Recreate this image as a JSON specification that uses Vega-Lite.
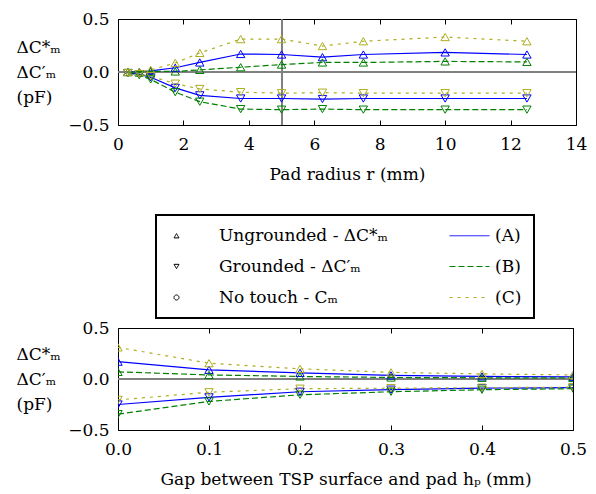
{
  "$schema": "https://vega.github.io/schema/vega-lite/v6.json",
  "padding": {"left": 15, "top": 9, "right": 5, "bottom": 5},
  "background": "white",
  "config": {
    "font": "DejaVu Serif",
    "view": {"stroke": "#000", "strokeWidth": 1},
    "axis": {"grid": false, "domain": false, "tickColor": "#000", "tickSize": -5, "tickWidth": 1, "labelFontSize": 17, "labelColor": "#000", "titleFontSize": 17, "titleColor": "#000", "titleFontWeight": "normal", "labelFlush": false, "labelPadding": 14},
    "legend": {"strokeWidth": 2}
  },
  "datasets": {
    "radius": [
      {"x": 0.3, "series": "A", "type": "U", "v": 0},
      {"x": 0.65, "series": "A", "type": "U", "v": 0},
      {"x": 1, "series": "A", "type": "U", "v": 0.01},
      {"x": 1.75, "series": "A", "type": "U", "v": 0.04},
      {"x": 2.5, "series": "A", "type": "U", "v": 0.09},
      {"x": 3.75, "series": "A", "type": "U", "v": 0.17},
      {"x": 5, "series": "A", "type": "U", "v": 0.165},
      {"x": 6.25, "series": "A", "type": "U", "v": 0.14},
      {"x": 7.5, "series": "A", "type": "U", "v": 0.165},
      {"x": 10, "series": "A", "type": "U", "v": 0.185},
      {"x": 12.5, "series": "A", "type": "U", "v": 0.165},
      {"x": 0.3, "series": "B", "type": "U", "v": 0},
      {"x": 0.65, "series": "B", "type": "U", "v": -0.005},
      {"x": 1, "series": "B", "type": "U", "v": 0.005},
      {"x": 1.75, "series": "B", "type": "U", "v": 0.005},
      {"x": 2.5, "series": "B", "type": "U", "v": 0.02},
      {"x": 3.75, "series": "B", "type": "U", "v": 0.045},
      {"x": 5, "series": "B", "type": "U", "v": 0.07},
      {"x": 6.25, "series": "B", "type": "U", "v": 0.09},
      {"x": 7.5, "series": "B", "type": "U", "v": 0.09},
      {"x": 10, "series": "B", "type": "U", "v": 0.1},
      {"x": 12.5, "series": "B", "type": "U", "v": 0.095},
      {"x": 0.3, "series": "C", "type": "U", "v": 0},
      {"x": 0.65, "series": "C", "type": "U", "v": 0},
      {"x": 1, "series": "C", "type": "U", "v": 0.02},
      {"x": 1.75, "series": "C", "type": "U", "v": 0.085},
      {"x": 2.5, "series": "C", "type": "U", "v": 0.18},
      {"x": 3.75, "series": "C", "type": "U", "v": 0.31},
      {"x": 5, "series": "C", "type": "U", "v": 0.31},
      {"x": 6.25, "series": "C", "type": "U", "v": 0.245},
      {"x": 7.5, "series": "C", "type": "U", "v": 0.29},
      {"x": 10, "series": "C", "type": "U", "v": 0.33},
      {"x": 12.5, "series": "C", "type": "U", "v": 0.29},
      {"x": 0.3, "series": "A", "type": "G", "v": -0.01},
      {"x": 0.65, "series": "A", "type": "G", "v": -0.02},
      {"x": 1, "series": "A", "type": "G", "v": -0.05},
      {"x": 1.75, "series": "A", "type": "G", "v": -0.15},
      {"x": 2.5, "series": "A", "type": "G", "v": -0.22},
      {"x": 3.75, "series": "A", "type": "G", "v": -0.25},
      {"x": 5, "series": "A", "type": "G", "v": -0.25},
      {"x": 6.25, "series": "A", "type": "G", "v": -0.255},
      {"x": 7.5, "series": "A", "type": "G", "v": -0.25},
      {"x": 10, "series": "A", "type": "G", "v": -0.25},
      {"x": 12.5, "series": "A", "type": "G", "v": -0.25},
      {"x": 0.3, "series": "B", "type": "G", "v": -0.01},
      {"x": 0.65, "series": "B", "type": "G", "v": -0.03},
      {"x": 1, "series": "B", "type": "G", "v": -0.07},
      {"x": 1.75, "series": "B", "type": "G", "v": -0.19},
      {"x": 2.5, "series": "B", "type": "G", "v": -0.28},
      {"x": 3.75, "series": "B", "type": "G", "v": -0.35},
      {"x": 5, "series": "B", "type": "G", "v": -0.355},
      {"x": 6.25, "series": "B", "type": "G", "v": -0.35},
      {"x": 7.5, "series": "B", "type": "G", "v": -0.355},
      {"x": 10, "series": "B", "type": "G", "v": -0.355},
      {"x": 12.5, "series": "B", "type": "G", "v": -0.355},
      {"x": 0.3, "series": "C", "type": "G", "v": -0.01},
      {"x": 0.65, "series": "C", "type": "G", "v": -0.02},
      {"x": 1, "series": "C", "type": "G", "v": -0.04},
      {"x": 1.75, "series": "C", "type": "G", "v": -0.11},
      {"x": 2.5, "series": "C", "type": "G", "v": -0.16},
      {"x": 3.75, "series": "C", "type": "G", "v": -0.19},
      {"x": 5, "series": "C", "type": "G", "v": -0.2},
      {"x": 6.25, "series": "C", "type": "G", "v": -0.195},
      {"x": 7.5, "series": "C", "type": "G", "v": -0.2},
      {"x": 10, "series": "C", "type": "G", "v": -0.2},
      {"x": 12.5, "series": "C", "type": "G", "v": -0.2}
    ],
    "gap": [
      {"x": 0, "series": "A", "type": "U", "v": 0.17},
      {"x": 0.1, "series": "A", "type": "U", "v": 0.09},
      {"x": 0.2, "series": "A", "type": "U", "v": 0.06},
      {"x": 0.3, "series": "A", "type": "U", "v": 0.035},
      {"x": 0.4, "series": "A", "type": "U", "v": 0.025},
      {"x": 0.5, "series": "A", "type": "U", "v": 0.02},
      {"x": 0, "series": "B", "type": "U", "v": 0.07},
      {"x": 0.1, "series": "B", "type": "U", "v": 0.04},
      {"x": 0.2, "series": "B", "type": "U", "v": 0.025},
      {"x": 0.3, "series": "B", "type": "U", "v": 0.015},
      {"x": 0.4, "series": "B", "type": "U", "v": 0.012},
      {"x": 0.5, "series": "B", "type": "U", "v": 0.01},
      {"x": 0, "series": "C", "type": "U", "v": 0.31},
      {"x": 0.1, "series": "C", "type": "U", "v": 0.155},
      {"x": 0.2, "series": "C", "type": "U", "v": 0.1},
      {"x": 0.3, "series": "C", "type": "U", "v": 0.065},
      {"x": 0.4, "series": "C", "type": "U", "v": 0.05},
      {"x": 0.5, "series": "C", "type": "U", "v": 0.04},
      {"x": 0, "series": "A", "type": "G", "v": -0.25},
      {"x": 0.1, "series": "A", "type": "G", "v": -0.18},
      {"x": 0.2, "series": "A", "type": "G", "v": -0.125},
      {"x": 0.3, "series": "A", "type": "G", "v": -0.105},
      {"x": 0.4, "series": "A", "type": "G", "v": -0.09},
      {"x": 0.5, "series": "A", "type": "G", "v": -0.085},
      {"x": 0, "series": "B", "type": "G", "v": -0.345},
      {"x": 0.1, "series": "B", "type": "G", "v": -0.22},
      {"x": 0.2, "series": "B", "type": "G", "v": -0.155},
      {"x": 0.3, "series": "B", "type": "G", "v": -0.125},
      {"x": 0.4, "series": "B", "type": "G", "v": -0.105},
      {"x": 0.5, "series": "B", "type": "G", "v": -0.095},
      {"x": 0, "series": "C", "type": "G", "v": -0.205},
      {"x": 0.1, "series": "C", "type": "G", "v": -0.13},
      {"x": 0.2, "series": "C", "type": "G", "v": -0.095},
      {"x": 0.3, "series": "C", "type": "G", "v": -0.09},
      {"x": 0.4, "series": "C", "type": "G", "v": -0.085},
      {"x": 0.5, "series": "C", "type": "G", "v": -0.08}
    ],
    "legendEntries": [
      {"entry": "Ungrounded - ΔC*ₘ"}, {"entry": "Grounded - ΔC′ₘ"}, {"entry": "No touch - Cₘ"}, {"entry": "(A)"}, {"entry": "(B)"}, {"entry": "(C)"}
    ]
  },
  "spacing": 135,
  "vconcat": [
    {
      "width": 458,
      "height": 106,
      "data": {"name": "radius"},
      "resolve": {"axis": {"x": "independent", "y": "independent"}},
      "layer": [
        {"mark": {"type": "rule", "color": "#808080", "strokeWidth": 1}, "encoding": {"y": {"datum": 0, "type": "quantitative", "axis": null}}},
        {"mark": {"type": "rule", "color": "#808080", "strokeWidth": 1}, "encoding": {"x": {"datum": 5, "type": "quantitative", "axis": null}}},
        {
          "transform": [{"filter": "datum.series == 'A'"}],
          "mark": {"type": "line", "color": "#0000ff", "strokeWidth": 1.2},
          "encoding": {
            "x": {"field": "x", "type": "quantitative", "scale": {"domain": [0, 14], "nice": false, "zero": false}, "axis": {"orient": "bottom", "values": [0, 2, 4, 6, 8, 10, 12, 14], "format": "d", "title": "Pad radius r (mm)", "titlePadding": 14, "labelPadding": 16}},
            "y": {"field": "v", "type": "quantitative", "scale": {"domain": [-0.5, 0.5], "nice": false, "zero": false}, "axis": {"orient": "left", "values": [-0.5, 0, 0.5], "format": ".1f", "title": ["ΔC*ₘ", "ΔC′ₘ", "(pF)"], "titleAngle": 0, "titleAlign": "left", "titleBaseline": "middle", "titleX": -102, "titleY": 28, "titleLineHeight": 25}},
            "detail": {"field": "type"}
          }
        },
        {
          "transform": [{"filter": "datum.series == 'B'"}],
          "mark": {"type": "line", "color": "#008000", "strokeWidth": 1.2, "strokeDash": [6, 3]},
          "encoding": {
            "x": {"field": "x", "type": "quantitative", "axis": {"orient": "top", "values": [0, 2, 4, 6, 8, 10, 12, 14], "labels": false, "title": null}},
            "y": {"field": "v", "type": "quantitative", "axis": {"orient": "right", "values": [-0.5, 0, 0.5], "labels": false, "title": null}},
            "detail": {"field": "type"}
          }
        },
        {
          "transform": [{"filter": "datum.series == 'C'"}],
          "mark": {"type": "line", "color": "#adad1f", "strokeWidth": 1.2, "strokeDash": [3, 5]},
          "encoding": {
            "x": {"field": "x", "type": "quantitative", "axis": null},
            "y": {"field": "v", "type": "quantitative", "axis": null},
            "detail": {"field": "type"}
          }
        },
        {
          "transform": [{"filter": "datum.type == 'U'"}],
          "mark": {"type": "point", "shape": "triangle-up", "filled": false, "size": 70, "strokeWidth": 1, "opacity": 1},
          "encoding": {
            "x": {"field": "x", "type": "quantitative", "axis": null},
            "y": {"field": "v", "type": "quantitative", "axis": null},
            "color": {"field": "series", "type": "nominal", "scale": {"domain": ["A", "B", "C"], "range": ["#0000ff", "#008000", "#adad1f"]}, "legend": null}
          }
        },
        {
          "transform": [{"filter": "datum.type == 'G'"}],
          "mark": {"type": "point", "shape": "triangle-down", "filled": false, "size": 70, "strokeWidth": 1, "opacity": 1},
          "encoding": {
            "x": {"field": "x", "type": "quantitative", "axis": null},
            "y": {"field": "v", "type": "quantitative", "axis": null},
            "color": {"field": "series", "type": "nominal", "scale": {"domain": ["A", "B", "C"], "range": ["#0000ff", "#008000", "#adad1f"]}, "legend": null}
          }
        }
      ]
    },
    {
      "width": 455,
      "height": 102,
      "data": {"name": "gap"},
      "resolve": {"axis": {"x": "independent", "y": "independent"}},
      "layer": [
        {"mark": {"type": "rule", "color": "#808080", "strokeWidth": 1}, "encoding": {"y": {"datum": 0, "type": "quantitative", "axis": null}}},
        {
          "transform": [{"filter": "datum.series == 'A'"}],
          "mark": {"type": "line", "color": "#0000ff", "strokeWidth": 1.2, "clip": true},
          "encoding": {
            "x": {"field": "x", "type": "quantitative", "scale": {"domain": [0, 0.5], "nice": false, "zero": false}, "axis": {"orient": "bottom", "values": [0, 0.1, 0.2, 0.3, 0.4, 0.5], "format": ".1f", "title": "Gap between TSP surface and pad hₚ (mm)", "titlePadding": 14, "labelPadding": 16}},
            "y": {"field": "v", "type": "quantitative", "scale": {"domain": [-0.5, 0.5], "nice": false, "zero": false}, "axis": {"orient": "left", "values": [-0.5, 0, 0.5], "format": ".1f", "title": ["ΔC*ₘ", "ΔC′ₘ", "(pF)"], "titleAngle": 0, "titleAlign": "left", "titleBaseline": "middle", "titleX": -102, "titleY": 26, "titleLineHeight": 25}},
            "detail": {"field": "type"}
          }
        },
        {
          "transform": [{"filter": "datum.series == 'B'"}],
          "mark": {"type": "line", "color": "#008000", "strokeWidth": 1.2, "strokeDash": [6, 3], "clip": true},
          "encoding": {
            "x": {"field": "x", "type": "quantitative", "axis": {"orient": "top", "values": [0, 0.1, 0.2, 0.3, 0.4, 0.5], "labels": false, "title": null}},
            "y": {"field": "v", "type": "quantitative", "axis": {"orient": "right", "values": [-0.5, 0, 0.5], "labels": false, "title": null}},
            "detail": {"field": "type"}
          }
        },
        {
          "transform": [{"filter": "datum.series == 'C'"}],
          "mark": {"type": "line", "color": "#adad1f", "strokeWidth": 1.2, "strokeDash": [3, 5], "clip": true},
          "encoding": {
            "x": {"field": "x", "type": "quantitative", "axis": null},
            "y": {"field": "v", "type": "quantitative", "axis": null},
            "detail": {"field": "type"}
          }
        },
        {
          "transform": [{"filter": "datum.type == 'U'"}],
          "mark": {"type": "point", "shape": "triangle-up", "filled": false, "size": 70, "strokeWidth": 1, "opacity": 1, "clip": true},
          "encoding": {
            "x": {"field": "x", "type": "quantitative", "axis": null},
            "y": {"field": "v", "type": "quantitative", "axis": null},
            "color": {"field": "series", "type": "nominal", "scale": {"domain": ["A", "B", "C"], "range": ["#0000ff", "#008000", "#adad1f"]}, "legend": null}
          }
        },
        {
          "transform": [{"filter": "datum.type == 'G'"}],
          "mark": {"type": "point", "shape": "triangle-down", "filled": false, "size": 70, "strokeWidth": 1, "opacity": 1, "clip": true},
          "encoding": {
            "x": {"field": "x", "type": "quantitative", "axis": null},
            "y": {"field": "v", "type": "quantitative", "axis": null},
            "color": {"field": "series", "type": "nominal", "scale": {"domain": ["A", "B", "C"], "range": ["#0000ff", "#008000", "#adad1f"]}, "legend": null}
          }
        },
        {
          "data": {"name": "legendEntries"},
          "transform": [{"filter": "false"}],
          "mark": {"type": "point", "filled": false, "strokeWidth": 1, "opacity": 1},
          "encoding": {
            "shape": {"field": "entry", "type": "nominal", "scale": {"domain": ["Ungrounded - ΔC*ₘ", "Grounded - ΔC′ₘ", "No touch - Cₘ", "(A)", "(B)", "(C)"], "range": ["triangle-up", "triangle-down", "circle", "M-1.2,0H14.8", "M-1.2,0H14.8", "M-1.2,0H14.8"]},
              "legend": {"orient": "none", "legendX": 38, "legendY": 196, "columns": 2, "title": null, "strokeColor": "#000", "padding": 12, "rowPadding": 13, "columnPadding": 55, "labelFontSize": 17, "labelFont": "DejaVu Serif", "labelColor": "#000", "symbolSize": 25, "symbolStrokeWidth": 1, "symbolOpacity": 1, "labelOffset": 34, "gridAlign": "each", "labelLimit": 400, "fillColor": "white"}},
            "stroke": {"field": "entry", "type": "nominal", "scale": {"domain": ["Ungrounded - ΔC*ₘ", "Grounded - ΔC′ₘ", "No touch - Cₘ", "(A)", "(B)", "(C)"], "range": ["#000000", "#000000", "#000000", "#0000ff", "#008000", "#adad1f"]}},
            "strokeDash": {"field": "entry", "type": "nominal", "scale": {"domain": ["Ungrounded - ΔC*ₘ", "Grounded - ΔC′ₘ", "No touch - Cₘ", "(A)", "(B)", "(C)"], "range": [[1, 0], [1, 0], [1, 0], [1, 0], [6, 3], [3, 5]]}}
          }
        }
      ]
    }
  ]
}
